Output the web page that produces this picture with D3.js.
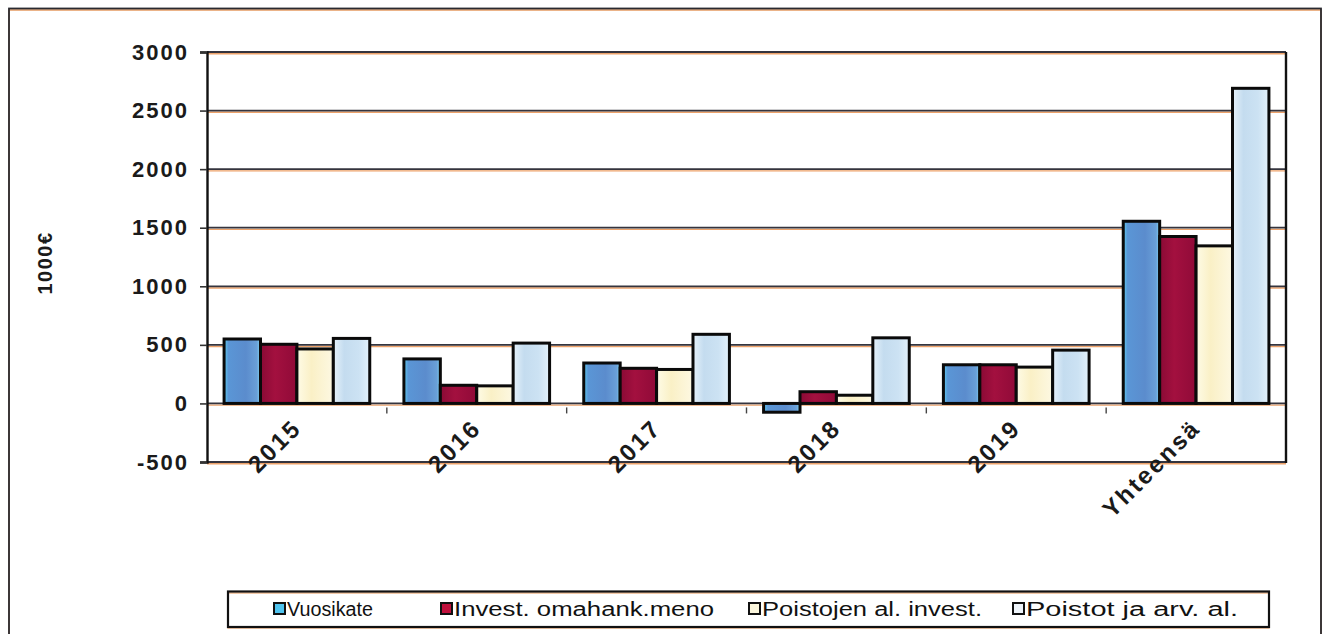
<!DOCTYPE html>
<html>
<head>
<meta charset="utf-8">
<script src="https://cdn.jsdelivr.net/npm/d3@7"></script>
<style>
  html, body { margin: 0; padding: 0; background: #fff; }
  svg { display: block; font-family: "Liberation Sans", Arial, sans-serif; }
</style>
</head>
<body>
<svg id="chart" width="1327" height="634"></svg>
<script>
// Categories and series (1000 €)
const categories = ["2015", "2016", "2017", "2018", "2019", "Yhteensä"];
const seriesNames = ["Vuosikate", "Invest. omahank.meno", "Poistojen al. invest.", "Poistot ja arv. al."];
const vuosikate   = [550, 380, 345, -75, 330, 1555];
const investMeno  = [505, 155, 300, 100, 330, 1425];
const poistojenAl = [465, 150, 290, 70, 310, 1345];
const poistotArv  = [555, 515, 590, 560, 455, 2690];
const yTicks = [-500, 0, 500, 1000, 1500, 2000, 2500, 3000];
const yTitle = "1000€";

const seriesValues = [vuosikate, investMeno, poistojenAl, poistotArv];
const fills = ["url(#gV)", "url(#gI)", "url(#gP)", "url(#gA)"];
const legendFills = ["#4fc3ee", "#c0103c", "#fbf6dc", "#eef4fa"];

const svg = d3.select("#chart");
const defs = svg.append("defs");

function hGrad(id, stops) {
  const g = defs.append("linearGradient").attr("id", id)
    .attr("x1", "0%").attr("x2", "100%").attr("y1", "0%").attr("y2", "0%");
  stops.forEach(([o, c]) => g.append("stop").attr("offset", o).attr("stop-color", c));
}
hGrad("gV", [["0%", "#5fd0f4"], ["12%", "#5a96d6"], ["60%", "#5b8ccd"], ["90%", "#6aa0d8"], ["100%", "#7fd8f5"]]);
hGrad("gI", [["0%", "#8a0a35"], ["40%", "#a3103f"], ["100%", "#900a38"]]);
hGrad("gP", [["0%", "#fefbe6"], ["40%", "#faf0c6"], ["100%", "#fdf8e2"]]);
hGrad("gA", [["0%", "#e6f2fb"], ["30%", "#c4dcef"], ["70%", "#cce2f3"], ["100%", "#e3f1fb"]]);

// Outer frame
svg.append("rect").attr("x", 9).attr("y", 10).attr("width", 1312).attr("height", 640)
  .attr("fill", "none").attr("stroke", "#e59a62").attr("stroke-width", 1.5);
svg.append("rect").attr("x", 9).attr("y", 8.5).attr("width", 1312).attr("height", 640)
  .attr("fill", "none").attr("stroke", "#2a2a30").attr("stroke-width", 1.8);

const plot = { left: 207, right: 1286, top: 52, bottom: 462 };

const y = d3.scaleLinear().domain([-500, 3000]).range([plot.bottom, plot.top]);
const x0 = d3.scaleBand().domain(categories).range([plot.left, plot.right])
  .paddingInner(0.19).paddingOuter(0.095);
const x1 = d3.scaleBand().domain(d3.range(seriesNames.length)).range([0, x0.bandwidth()]);

// Horizontal gridlines: dark line with orange underline
const grid = svg.append("g");
yTicks.forEach(t => {
  grid.append("line").attr("x1", plot.left).attr("x2", plot.right)
    .attr("y1", y(t) + 1.7).attr("y2", y(t) + 1.7)
    .attr("stroke", "#eda26a").attr("stroke-width", 1.4);
  grid.append("line").attr("x1", plot.left).attr("x2", plot.right)
    .attr("y1", y(t)).attr("y2", y(t))
    .attr("stroke", "#34343e").attr("stroke-width", 1.8);
});

// Right border of plot area
svg.append("line").attr("x1", plot.right).attr("x2", plot.right)
  .attr("y1", plot.top).attr("y2", plot.bottom + 1)
  .attr("stroke", "#111").attr("stroke-width", 2.4);

// Y axis
const yAxis = svg.append("g").attr("transform", `translate(${plot.left},0)`)
  .call(d3.axisLeft(y).tickValues(yTicks).tickSize(7).tickPadding(11).tickFormat(d => String(d)));
yAxis.select(".domain").attr("stroke", "#111").attr("stroke-width", 2.4);
yAxis.selectAll(".tick line").attr("stroke", "#333").attr("stroke-width", 1.6);
yAxis.selectAll(".tick text").attr("font-size", 22).attr("font-weight", "bold")
  .attr("letter-spacing", 2)
  .attr("fill", "#1a1a1a").attr("font-family", "Liberation Sans, Arial, sans-serif");

// Y title
svg.append("text").attr("transform", "translate(52,263) rotate(-90)")
  .attr("text-anchor", "middle").attr("font-size", 20).attr("font-weight", "bold")
  .attr("letter-spacing", 1.5)
  .attr("fill", "#1a1a1a").text(yTitle);

// Category separator ticks under the zero line
const step = x0.step();
categories.slice(1).forEach(c => {
  const bx = x0(c) - (step - x0.bandwidth()) / 2;
  svg.append("line").attr("x1", bx).attr("x2", bx)
    .attr("y1", y(0) + 4).attr("y2", y(0) + 10)
    .attr("stroke", "#444").attr("stroke-width", 1.4);
});

// Bars
const groups = svg.append("g").selectAll("g").data(categories).join("g")
  .attr("transform", d => `translate(${x0(d)},0)`);
groups.selectAll("rect")
  .data((c, ci) => seriesValues.map((vals, si) => ({ si, v: vals[ci] })))
  .join("rect")
  .attr("x", d => x1(d.si))
  .attr("width", x1.bandwidth())
  .attr("y", d => y(Math.max(0, d.v)))
  .attr("height", d => Math.abs(y(d.v) - y(0)))
  .attr("fill", d => fills[d.si])
  .attr("stroke", "#0a0a0a").attr("stroke-width", 3);

// Category labels, rotated
svg.append("g").selectAll("text").data(categories).join("text")
  .attr("transform", d => `translate(${x0(d) + x0.bandwidth() / 2 + 6},${y(0) + 26}) rotate(-45)`)
  .attr("text-anchor", "end").attr("font-size", 24).attr("font-weight", "bold")
  .attr("letter-spacing", 2.5)
  .attr("fill", "#1a1a1a").text(d => d);

// Legend
const legend = svg.append("g");
legend.append("rect").attr("x", 228).attr("y", 593).attr("width", 1041).attr("height", 35)
  .attr("fill", "none").attr("stroke", "#e9a36d").attr("stroke-width", 1.2);
legend.append("rect").attr("x", 228).attr("y", 591.5).attr("width", 1041).attr("height", 35.5)
  .attr("fill", "none").attr("stroke", "#111").attr("stroke-width", 2.2);
const legendX = [274, 441, 749, 1013];
const legendTextWidth = [86, 260, 220, 212];
seriesNames.forEach((name, i) => {
  const g = legend.append("g").attr("transform", `translate(${legendX[i]},609)`);
  g.append("rect").attr("x", 0).attr("y", -6).attr("width", 11).attr("height", 11)
    .attr("fill", legendFills[i]).attr("stroke", "#111").attr("stroke-width", 2);
  g.append("text").attr("x", 13).attr("y", 7).attr("font-size", 20)
    .attr("textLength", legendTextWidth[i]).attr("lengthAdjust", "spacingAndGlyphs")
    .attr("fill", "#111").text(name);
});
</script>
</body>
</html>
